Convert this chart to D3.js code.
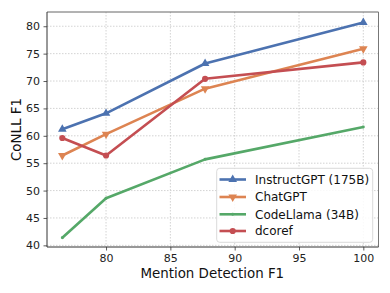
<!DOCTYPE html>
<html><head><meta charset="utf-8">
<script src="https://cdn.jsdelivr.net/npm/d3@7"></script>
<style>body{margin:0;background:#fff}svg{display:block;font-family:"DejaVu Sans",sans-serif}</style>
</head><body><svg id="c" width="390" height="293"></svg>
<script>
const xValues = [76.6, 80.0, 87.7, 100];
const instructGPT = [61.2, 64.1, 73.2, 80.7];
const chatGPT = [56.4, 60.3, 68.6, 75.9];
const codeLlama = [41.4, 48.6, 55.7, 61.6];
const dcoref = [59.6, 56.4, 70.4, 73.4];
const seriesNames = ["InstructGPT (175B)", "ChatGPT", "CodeLlama (34B)", "dcoref"];
const xTicks = [80, 85, 90, 95, 100];
const yTicks = [40, 45, 50, 55, 60, 65, 70, 75, 80];

const colors = ["#4C72B0", "#DD8452", "#55A868", "#C44E52"];
const markers = ["tri-up", "tri-down", "point", "circle"];
const series = [instructGPT, chatGPT, codeLlama, dcoref].map((v, i) => ({name: seriesNames[i], values: v, color: colors[i], marker: markers[i]}));

const svg = d3.select("#c");
const m = {l: 47, r: 378.5, t: 12, b: 247};
const x = d3.scaleLinear().domain([75.41, 101.18]).range([m.l, m.r]);
const y = d3.scaleLinear().domain([39.7, 82.6]).range([m.b, m.t]);

// grid
const g = svg.append("g");
g.selectAll(".gx").data(xTicks).join("line")
  .attr("x1", d => x(d)).attr("x2", d => x(d)).attr("y1", m.t).attr("y2", m.b)
  .attr("stroke", "#c8c8c8").attr("stroke-width", 0.8).attr("stroke-dasharray", "1.5,1.5");
g.selectAll(".gy").data(yTicks).join("line")
  .attr("y1", d => y(d)).attr("y2", d => y(d)).attr("x1", m.l).attr("x2", m.r)
  .attr("stroke", "#c8c8c8").attr("stroke-width", 0.8).attr("stroke-dasharray", "1.5,1.5");

// axes
const xa = svg.append("g").attr("transform", `translate(0,${m.b})`)
  .call(d3.axisBottom(x).tickValues(xTicks).tickSize(3.5).tickPadding(3.5).tickFormat(d3.format("d")));
const ya = svg.append("g").attr("transform", `translate(${m.l},0)`)
  .call(d3.axisLeft(y).tickValues(yTicks).tickSize(3.5).tickPadding(3.5).tickFormat(d3.format("d")));
[xa, ya].forEach(a => {
  a.select(".domain").remove();
  a.selectAll("line").attr("stroke", "#333").attr("stroke-width", 0.8);
  a.selectAll("text").attr("fill", "#222").style("font-size", "11px").style("font-family", "DejaVu Sans");
});

// lines
const line = d3.line().x((d, i) => x(xValues[i])).y(d => y(d));
const sym = {
  "tri-up": d3.symbol().type(d3.symbolTriangle).size(32),
  "circle": d3.symbol().type(d3.symbolCircle).size(30),
  "point": d3.symbol().type(d3.symbolCircle).size(7)
};
function drawMarker(sel, s, cx, cy) {
  const t = s.marker === "tri-down" ? sym["tri-up"]() : sym[s.marker]();
  sel.append("path").attr("d", t)
    .attr("transform", `translate(${cx},${cy})${s.marker === "tri-down" ? " rotate(180)" : ""}`)
    .attr("fill", s.color);
}
series.forEach(s => {
  svg.append("path").datum(s.values).attr("d", line)
    .attr("fill", "none").attr("stroke", s.color).attr("stroke-width", 2.6).attr("stroke-linejoin", "round");
  const mg = svg.append("g");
  s.values.forEach((v, i) => drawMarker(mg, s, x(xValues[i]), y(v)));
});

// frame
svg.append("line").attr("x1", m.l).attr("x2", m.r).attr("y1", m.t).attr("y2", m.t).attr("stroke", "#666").attr("stroke-width", 1);
svg.append("line").attr("x1", m.r).attr("x2", m.r).attr("y1", m.t).attr("y2", m.b).attr("stroke", "#777").attr("stroke-width", 1);
svg.append("line").attr("x1", m.l).attr("x2", m.r).attr("y1", m.b).attr("y2", m.b).attr("stroke", "#333").attr("stroke-width", 1);
svg.append("line").attr("x1", m.l).attr("x2", m.l).attr("y1", m.t).attr("y2", m.b).attr("stroke", "#333").attr("stroke-width", 1);

// axis labels
svg.append("text").attr("x", (m.l + m.r) / 2 - 0.5).attr("y", 278).attr("text-anchor", "middle")
  .style("font-size", "13.4px").attr("fill", "#111").text("Mention Detection F1");
svg.append("text").attr("transform", `translate(20.5,${(m.t + m.b) / 2}) rotate(-90)`).attr("text-anchor", "middle")
  .style("font-size", "13.4px").attr("fill", "#111").text("CoNLL F1");

// legend
const lg = svg.append("g");
lg.append("rect").attr("x", 216.7).attr("y", 168.3).attr("width", 156).attr("height", 74).attr("rx", 3)
  .attr("fill", "#fff").attr("fill-opacity", 0.85).attr("stroke", "#d0d0d0").attr("stroke-width", 0.8);
const rowsY = [179.5, 197, 214.3, 231];
series.forEach((s, i) => {
  lg.append("line").attr("x1", 219.5).attr("x2", 246).attr("y1", rowsY[i]).attr("y2", rowsY[i])
    .attr("stroke", s.color).attr("stroke-width", 2.6);
  drawMarker(lg, s, 232.7, rowsY[i]);
  lg.append("text").attr("x", 255).attr("y", rowsY[i]).attr("dy", "0.35em")
    .style("font-size", "12px").attr("fill", "#111").text(s.name);
});
</script></body></html>
